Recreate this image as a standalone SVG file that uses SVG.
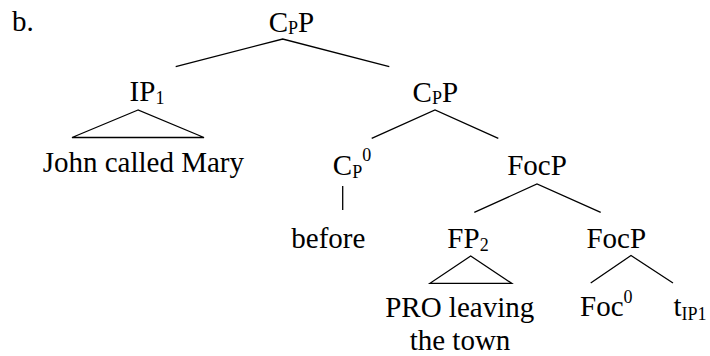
<svg xmlns="http://www.w3.org/2000/svg" width="710" height="356" viewBox="0 0 710 356">
  <style>
    text { font-family: "Liberation Serif", "Times New Roman", serif; font-size: 29px; fill: #000; }
    .c { text-anchor: middle; }
    .s { font-size: 18px; }
    .branch line, .branch polyline, .branch polygon { stroke: #000; stroke-width: 1.3; fill: none; }
  </style>
  <rect width="710" height="356" fill="#fff"/>

  <text x="12" y="31">b.</text>

  <!-- connectors -->
  <g id="connectors" class="branch">
    <polyline points="175.7,66.7 282.7,39 389.3,66.7"/>
    <polygon points="138,110 72,137.5 204,137.5"/>
    <polyline points="371.7,138.3 435,110 498.3,138.3"/>
    <line x1="342.7" y1="186" x2="342.7" y2="210"/>
    <polyline points="474.3,212.3 537,184 600.7,212.3"/>
    <polygon points="470.7,256 430,283.3 511.7,283.3"/>
    <polyline points="590.7,283 631,255.5 673,283"/>
  </g>

  <g id="n-cpp-top"><text class="c" x="291.5" y="32">C<tspan class="s" dy="2">P</tspan><tspan dy="-2">P</tspan></text></g>
  <g id="n-ip1"><text class="c" x="147" y="101">IP<tspan class="s" dy="3">1</tspan></text></g>
  <g id="n-john"><text class="c" x="143.3" y="172">John called Mary</text></g>
  <g id="n-cpp"><text class="c" x="435.3" y="102">C<tspan class="s" dy="2">P</tspan><tspan dy="-2">P</tspan></text></g>
  <g id="n-cp0"><text class="c" x="352" y="175">C<tspan class="s" dy="3">P</tspan><tspan class="s" dy="-17">0</tspan></text></g>
  <g id="n-before"><text class="c" x="328.3" y="248">before</text></g>
  <g id="n-focp"><text class="c" x="537" y="175">FocP</text></g>
  <g id="n-fp2"><text class="c" x="468" y="248">FP<tspan class="s" dy="3">2</tspan></text></g>
  <g id="n-pro"><text class="c" x="459.7" y="317">PRO leaving</text><text class="c" x="460" y="350">the town</text></g>
  <g id="n-focp2"><text class="c" x="616.3" y="248">FocP</text></g>
  <g id="n-foc0"><text class="c" x="606.3" y="316">Foc<tspan class="s" dy="-13">0</tspan></text></g>
  <g id="n-tip1"><text class="c" x="690" y="316">t<tspan class="s" dy="4">IP1</tspan></text></g>
</svg>
